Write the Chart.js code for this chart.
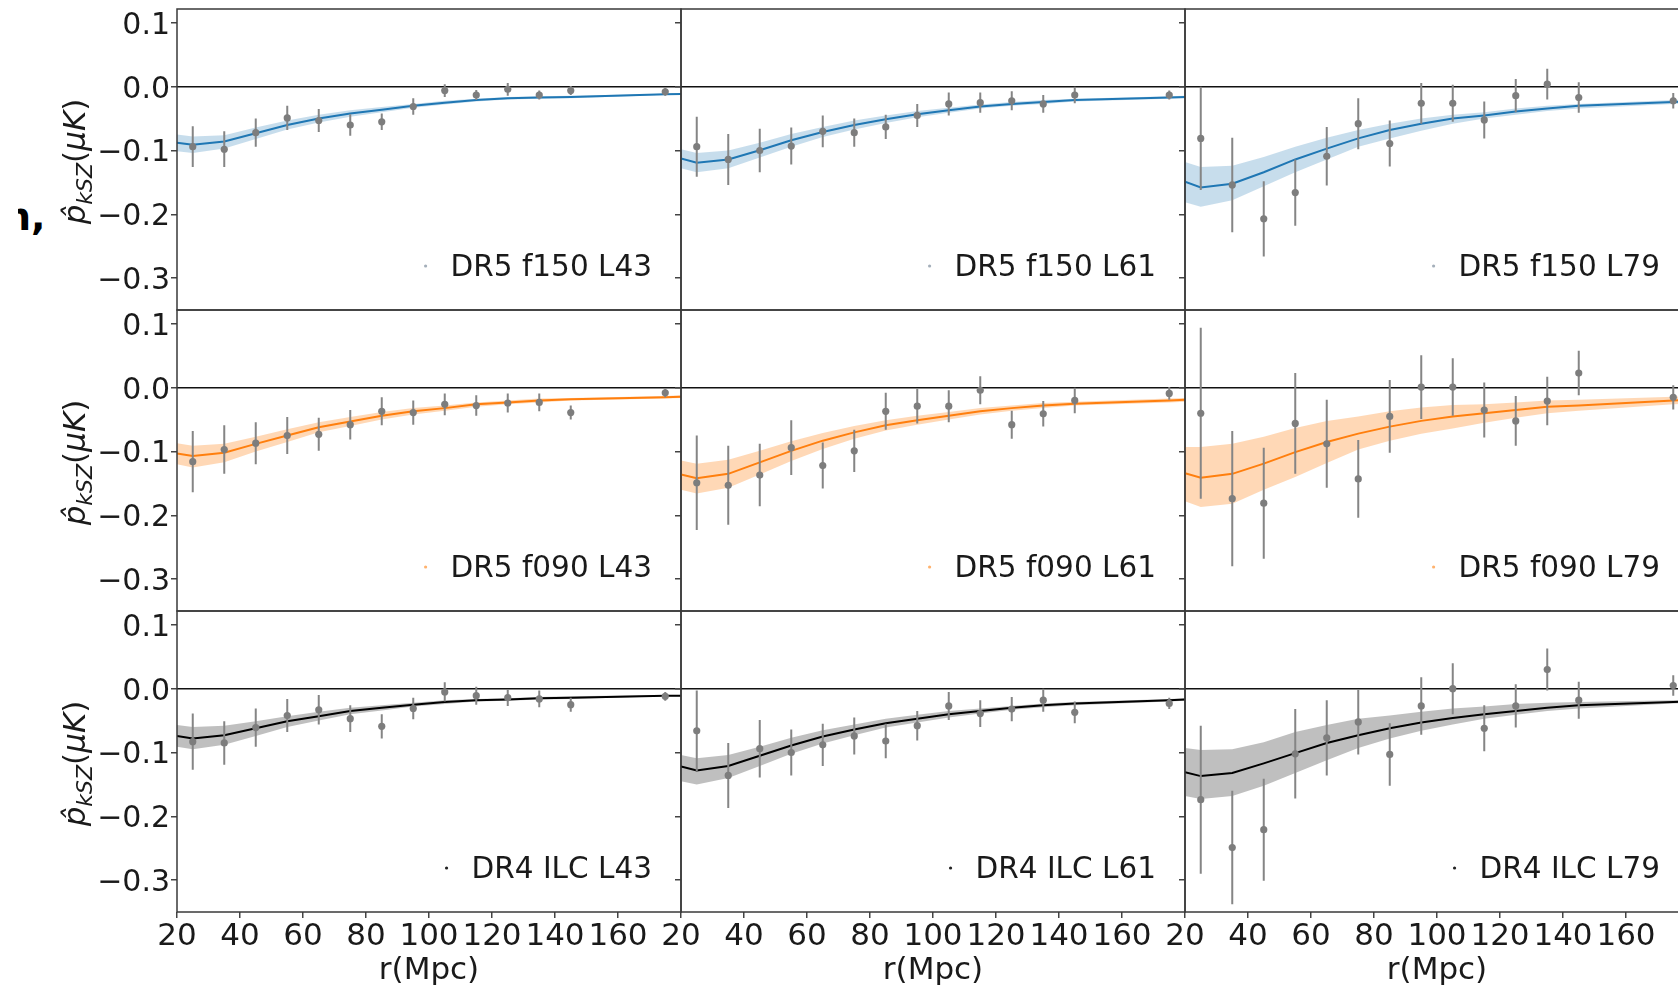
<!DOCTYPE html>
<html><head><meta charset="utf-8">
<script src="https://cdn.jsdelivr.net/npm/chart.js@4.4.1/dist/chart.umd.min.js"></script>
<style>
html,body{margin:0;padding:0;background:#fff;overflow:hidden;width:1678px;height:985px;position:relative;}
canvas{position:absolute;}
.clip{position:absolute;overflow:hidden;}
.stray{position:absolute;font-family:'DejaVu Sans',sans-serif;font-weight:bold;color:#000;line-height:1;white-space:pre;}
</style></head><body>
<div class="clip" style="left:18px;top:190px;width:40px;height:52px;"><div class="stray" style="left:-14px;top:8px;font-size:38px;">n,</div></div>
<script>
const FONT = "'DejaVu Sans', sans-serif";

// ---- axes / ticks ----
const rData  = [25,35,45,55,65,75,85,95,105,115,125,135,145,175];
const rModel = [20,25,35,45,55,65,75,85,95,105,115,125,135,145,175,180];
const xTickValues = [20,40,60,80,100,120,140,160];
const yTickValues = [-0.3,-0.2,-0.1,0.0,0.1];
const xTitle = 'r(Mpc)';
const panelLabels = ['DR5 f150 L43','DR5 f150 L61','DR5 f150 L79',
                     'DR5 f090 L43','DR5 f090 L61','DR5 f090 L79',
                     'DR4 ILC L43','DR4 ILC L61','DR4 ILC L79'];

// ---- DR5 f150 ----
const obs_f150_L43 = [-0.094,-0.098,-0.072,-0.049,-0.053,-0.060,-0.055,-0.031,-0.006,-0.013,-0.004,-0.013,-0.006,-0.008];
const err_f150_L43 = [0.032,0.028,0.022,0.019,0.018,0.017,0.013,0.013,0.010,0.008,0.010,0.007,0.007,0.006];
const fit_f150_L43 = [-0.088,-0.091,-0.086,-0.073,-0.060,-0.050,-0.042,-0.036,-0.030,-0.025,-0.021,-0.018,-0.017,-0.016,-0.012,-0.0115];
const hi_f150_L43  = [-0.075,-0.078,-0.076,-0.064,-0.053,-0.044,-0.037,-0.032,-0.027,-0.022,-0.019,-0.016,-0.015,-0.014,-0.011,-0.010];
const lo_f150_L43  = [-0.101,-0.104,-0.097,-0.082,-0.067,-0.056,-0.047,-0.040,-0.033,-0.028,-0.023,-0.020,-0.019,-0.018,-0.013,-0.013];

const obs_f150_L61 = [-0.094,-0.114,-0.100,-0.093,-0.070,-0.072,-0.063,-0.045,-0.027,-0.025,-0.022,-0.027,-0.013,-0.013];
const err_f150_L61 = [0.047,0.040,0.034,0.029,0.025,0.022,0.019,0.018,0.018,0.016,0.015,0.014,0.013,0.007];
const fit_f150_L61 = [-0.1125,-0.119,-0.114,-0.0995,-0.084,-0.071,-0.060,-0.051,-0.043,-0.037,-0.031,-0.027,-0.024,-0.021,-0.017,-0.016];
const hi_f150_L61  = [-0.098,-0.104,-0.100,-0.088,-0.074,-0.063,-0.053,-0.045,-0.038,-0.033,-0.028,-0.024,-0.021,-0.019,-0.015,-0.014];
const lo_f150_L61  = [-0.128,-0.134,-0.128,-0.111,-0.094,-0.079,-0.067,-0.057,-0.048,-0.041,-0.034,-0.030,-0.027,-0.023,-0.019,-0.018];

const obs_f150_L79 = [-0.081,-0.154,-0.207,-0.166,-0.109,-0.058,-0.089,-0.026,-0.026,-0.052,-0.014,0.004,-0.017,-0.022];
const err_f150_L79 = [0.081,0.074,0.059,0.052,0.046,0.040,0.036,0.032,0.029,0.029,0.026,0.024,0.024,0.012];
const fit_f150_L79 = [-0.149,-0.158,-0.152,-0.134,-0.114,-0.097,-0.081,-0.068,-0.058,-0.050,-0.045,-0.039,-0.034,-0.030,-0.024,-0.023];
const hi_f150_L79  = [-0.118,-0.126,-0.124,-0.110,-0.094,-0.080,-0.068,-0.058,-0.050,-0.044,-0.040,-0.034,-0.030,-0.027,-0.021,-0.020];
const lo_f150_L79  = [-0.181,-0.188,-0.178,-0.156,-0.134,-0.114,-0.094,-0.081,-0.069,-0.058,-0.050,-0.044,-0.038,-0.034,-0.027,-0.026];

// ---- DR5 f090 ----
const obs_f090_L43 = [-0.116,-0.097,-0.087,-0.075,-0.073,-0.058,-0.037,-0.039,-0.026,-0.028,-0.024,-0.023,-0.039,-0.008];
const err_f090_L43 = [0.048,0.038,0.033,0.029,0.026,0.023,0.022,0.019,0.017,0.016,0.015,0.014,0.011,0.007];
const fit_f090_L43 = [-0.103,-0.107,-0.102,-0.088,-0.075,-0.062,-0.053,-0.044,-0.037,-0.032,-0.026,-0.023,-0.020,-0.018,-0.015,-0.014];
const hi_f090_L43  = [-0.087,-0.091,-0.088,-0.077,-0.065,-0.054,-0.046,-0.038,-0.032,-0.028,-0.023,-0.020,-0.017,-0.016,-0.013,-0.012];
const lo_f090_L43  = [-0.120,-0.125,-0.117,-0.100,-0.085,-0.070,-0.060,-0.050,-0.042,-0.036,-0.030,-0.026,-0.023,-0.020,-0.017,-0.016];

const obs_f090_L61 = [-0.149,-0.153,-0.137,-0.094,-0.122,-0.099,-0.037,-0.029,-0.029,-0.004,-0.058,-0.041,-0.020,-0.009];
const err_f090_L61 = [0.074,0.062,0.049,0.043,0.036,0.033,0.029,0.027,0.025,0.022,0.022,0.020,0.020,0.010];
const fit_f090_L61 = [-0.136,-0.142,-0.135,-0.117,-0.099,-0.083,-0.070,-0.059,-0.051,-0.044,-0.037,-0.032,-0.028,-0.025,-0.020,-0.019];
const hi_f090_L61  = [-0.114,-0.119,-0.113,-0.099,-0.084,-0.071,-0.060,-0.051,-0.044,-0.038,-0.032,-0.028,-0.024,-0.022,-0.017,-0.016];
const lo_f090_L61  = [-0.160,-0.166,-0.157,-0.136,-0.115,-0.096,-0.080,-0.067,-0.058,-0.050,-0.042,-0.036,-0.032,-0.028,-0.023,-0.022];

const obs_f090_L79 = [-0.040,-0.174,-0.181,-0.056,-0.088,-0.143,-0.045,0.001,0.001,-0.035,-0.052,-0.021,0.023,-0.015];
const err_f090_L79 = [0.134,0.106,0.087,0.079,0.069,0.061,0.057,0.050,0.045,0.043,0.039,0.038,0.035,0.019];
const fit_f090_L79 = [-0.134,-0.141,-0.135,-0.119,-0.101,-0.085,-0.072,-0.061,-0.052,-0.045,-0.040,-0.035,-0.030,-0.028,-0.020,-0.019];
const hi_f090_L79  = [-0.093,-0.093,-0.088,-0.077,-0.063,-0.052,-0.045,-0.037,-0.031,-0.027,-0.026,-0.023,-0.020,-0.019,-0.014,-0.013];
const lo_f090_L79  = [-0.178,-0.187,-0.182,-0.160,-0.140,-0.118,-0.097,-0.083,-0.072,-0.064,-0.055,-0.047,-0.040,-0.036,-0.026,-0.025];

// ---- DR4 ILC ----
const obs_ilc_L43 = [-0.083,-0.085,-0.061,-0.042,-0.033,-0.047,-0.059,-0.031,-0.005,-0.011,-0.014,-0.016,-0.025,-0.012];
const err_ilc_L43 = [0.044,0.034,0.030,0.026,0.023,0.021,0.019,0.017,0.015,0.014,0.013,0.013,0.011,0.007];
const fit_ilc_L43 = [-0.074,-0.078,-0.073,-0.062,-0.051,-0.043,-0.035,-0.030,-0.025,-0.021,-0.018,-0.017,-0.015,-0.014,-0.011,-0.011];
const hi_ilc_L43  = [-0.057,-0.060,-0.058,-0.051,-0.043,-0.036,-0.030,-0.026,-0.022,-0.018,-0.016,-0.015,-0.013,-0.012,-0.010,-0.010];
const lo_ilc_L43  = [-0.091,-0.095,-0.088,-0.074,-0.060,-0.050,-0.040,-0.034,-0.028,-0.024,-0.020,-0.019,-0.017,-0.016,-0.012,-0.012];

const obs_ilc_L61 = [-0.066,-0.136,-0.094,-0.100,-0.088,-0.074,-0.082,-0.058,-0.027,-0.039,-0.032,-0.018,-0.037,-0.023];
const err_ilc_L61 = [0.063,0.051,0.045,0.036,0.033,0.029,0.027,0.023,0.022,0.021,0.019,0.018,0.017,0.009];
const fit_ilc_L61 = [-0.122,-0.128,-0.121,-0.105,-0.089,-0.075,-0.064,-0.054,-0.047,-0.040,-0.035,-0.030,-0.026,-0.023,-0.018,-0.017];
const hi_ilc_L61  = [-0.104,-0.109,-0.104,-0.091,-0.077,-0.065,-0.056,-0.047,-0.041,-0.035,-0.031,-0.027,-0.023,-0.021,-0.016,-0.015];
const lo_ilc_L61  = [-0.145,-0.150,-0.140,-0.121,-0.102,-0.086,-0.073,-0.061,-0.053,-0.045,-0.039,-0.033,-0.029,-0.026,-0.020,-0.019];

const obs_ilc_L79 = [-0.174,-0.249,-0.221,-0.102,-0.077,-0.052,-0.103,-0.027,0.000,-0.062,-0.027,0.030,-0.018,0.005];
const err_ilc_L79 = [0.116,0.089,0.080,0.070,0.059,0.051,0.049,0.045,0.040,0.036,0.034,0.033,0.029,0.016];
const fit_ilc_L79 = [-0.131,-0.137,-0.132,-0.117,-0.101,-0.085,-0.073,-0.062,-0.053,-0.046,-0.040,-0.035,-0.030,-0.026,-0.021,-0.020];
const hi_ilc_L79  = [-0.093,-0.096,-0.095,-0.084,-0.068,-0.057,-0.047,-0.042,-0.036,-0.031,-0.028,-0.024,-0.022,-0.021,-0.018,-0.017];
const lo_ilc_L79  = [-0.168,-0.173,-0.168,-0.152,-0.132,-0.112,-0.093,-0.078,-0.066,-0.056,-0.047,-0.041,-0.035,-0.031,-0.023,-0.022];

const lineColors = ['#1f77b4','#ff7f0e','#000000'];
const bandColors = ['rgba(31,119,180,0.25)','rgba(255,127,14,0.30)','rgba(128,128,128,0.50)'];
const legendDotColors = ['rgba(90,110,130,0.55)','rgba(255,127,14,0.6)','#222222'];

const panels = [
  {obs:obs_f150_L43, err:err_f150_L43, fit:fit_f150_L43, hi:hi_f150_L43, lo:lo_f150_L43},
  {obs:obs_f150_L61, err:err_f150_L61, fit:fit_f150_L61, hi:hi_f150_L61, lo:lo_f150_L61},
  {obs:obs_f150_L79, err:err_f150_L79, fit:fit_f150_L79, hi:hi_f150_L79, lo:lo_f150_L79},
  {obs:obs_f090_L43, err:err_f090_L43, fit:fit_f090_L43, hi:hi_f090_L43, lo:lo_f090_L43},
  {obs:obs_f090_L61, err:err_f090_L61, fit:fit_f090_L61, hi:hi_f090_L61, lo:lo_f090_L61},
  {obs:obs_f090_L79, err:err_f090_L79, fit:fit_f090_L79, hi:hi_f090_L79, lo:lo_f090_L79},
  {obs:obs_ilc_L43, err:err_ilc_L43, fit:fit_ilc_L43, hi:hi_ilc_L43, lo:lo_ilc_L43},
  {obs:obs_ilc_L61, err:err_ilc_L61, fit:fit_ilc_L61, hi:hi_ilc_L61, lo:lo_ilc_L61},
  {obs:obs_ilc_L79, err:err_ilc_L79, fit:fit_ilc_L79, hi:hi_ilc_L79, lo:lo_ilc_L79}
];

const fmtY = v => (v < -1e-9 ? '\u2212' : '') + Math.abs(v).toFixed(1);

const framePlugin = {
  id: 'frame',
  afterDatasetsDraw(chart) {
    const {ctx, chartArea: a} = chart;
    ctx.save();
    ctx.strokeStyle = '#3a3a3a';
    ctx.lineWidth = 1.5;
    ctx.strokeRect(a.left, a.top, a.right - a.left, a.bottom - a.top);
    ctx.restore();
  }
};

const legendPlugin = {
  id: 'panelLegend',
  afterDraw(chart, args, opts) {
    const {ctx, chartArea: a} = chart;
    ctx.save();
    ctx.font = '29.5px ' + FONT;
    ctx.fillStyle = '#1a1a1a';
    ctx.textAlign = 'right';
    ctx.textBaseline = 'alphabetic';
    const xr = a.right - 29, yb = a.bottom - 34;
    ctx.fillText(opts.text, xr, yb);
    const w = ctx.measureText(opts.text).width;
    ctx.fillStyle = opts.dot;
    ctx.beginPath();
    ctx.arc(xr - w - 25, yb - 10, 1.6, 0, Math.PI * 2);
    ctx.fill();
    ctx.restore();
  }
};

const yTitlePlugin = {
  id: 'yTitleMath',
  afterDraw(chart, args, opts) {
    if (!opts.show) return;
    const {ctx, chartArea: a} = chart;
    const parts = [
      {t: 'p\u0302', f: 'italic 31px ' + FONT, dy: 0},
      {t: 'kSZ', f: 'italic 22px ' + FONT, dy: 7},
      {t: '(', f: '31px ' + FONT, dy: 0},
      {t: '\u03bcK', f: 'italic 31px ' + FONT, dy: 0},
      {t: ')', f: '31px ' + FONT, dy: 0}
    ];
    ctx.save();
    let total = 0;
    parts.forEach(p => { ctx.font = p.f; p.w = ctx.measureText(p.t).width; total += p.w; });
    ctx.translate(85, (a.top + a.bottom) / 2 + 2);
    ctx.rotate(-Math.PI / 2);
    ctx.fillStyle = '#1a1a1a';
    ctx.textBaseline = 'alphabetic';
    ctx.textAlign = 'left';
    let x = -total / 2;
    parts.forEach(p => { ctx.font = p.f; ctx.fillText(p.t, x, p.dy); x += p.w; });
    ctx.restore();
  }
};

const L = [177, 681, 1185], T = [9, 310, 611], W = 504, H = 301;

panels.forEach((p, i) => {
  const r = Math.floor(i / 3), c = i % 3;
  const padL = c === 0 ? 177 : 30, padR = 30, padT = 30, padB = r === 2 ? 80 : 30;
  const cv = document.createElement('canvas');
  cv.width = padL + W + padR;
  cv.height = padT + H + padB;
  cv.style.left = (L[c] - padL) + 'px';
  cv.style.top = (T[r] - padT) + 'px';
  document.body.appendChild(cv);

  const errPts = [];
  rData.forEach((x, k) => {
    errPts.push({x: x, y: p.obs[k] - p.err[k]}, {x: x, y: p.obs[k] + p.err[k]}, {x: x, y: null});
  });

  new Chart(cv, {
    type: 'line',
    data: {
      datasets: [
        {label: panelLabels[i], data: rData.map((x, k) => ({x: x, y: p.obs[k]})), showLine: false,
         pointRadius: 3.6, pointBackgroundColor: '#7d7d7d', pointBorderWidth: 0, pointBorderColor: 'transparent'},
        {data: errPts, borderColor: '#858585', borderWidth: 2, pointRadius: 0, spanGaps: false, fill: false},
        {data: rModel.map((x, k) => ({x: x, y: p.fit[k]})), borderColor: lineColors[r], borderWidth: 2,
         pointRadius: 0, tension: 0, fill: false},
        {data: rModel.map((x, k) => ({x: x, y: p.hi[k]})), borderColor: 'transparent', borderWidth: 0,
         pointRadius: 0, fill: '+1', backgroundColor: bandColors[r]},
        {data: rModel.map((x, k) => ({x: x, y: p.lo[k]})), borderColor: 'transparent', borderWidth: 0,
         pointRadius: 0, fill: false}
      ]
    },
    options: {
      responsive: false, animation: false, devicePixelRatio: 1, events: [],
      layout: {padding: {top: padT, right: padR, left: 0, bottom: 0}},
      plugins: {
        legend: {display: false}, tooltip: {enabled: false},
        panelLegend: {text: panelLabels[i], dot: legendDotColors[r]},
        yTitleMath: {show: c === 0}
      },
      scales: {
        x: {
          type: 'linear', min: 20, max: 180,
          afterBuildTicks: s => { s.ticks = xTickValues.map(v => ({value: v})); },
          afterFit: s => { s.height = padB; },
          ticks: {display: r === 2, autoSkip: false, maxRotation: 0, font: {family: FONT, size: 31}, color: '#1a1a1a', padding: 0},
          grid: {display: r === 2, drawOnChartArea: false, drawTicks: true, tickLength: 6, tickColor: '#444', lineWidth: 1.5},
          border: {display: false},
          title: {display: r === 2, text: xTitle, font: {family: FONT, size: 31}, color: '#1a1a1a', padding: {top: 0, bottom: 2}}
        },
        y: {
          type: 'linear', min: -0.35, max: 0.1218,
          afterBuildTicks: s => { s.ticks = yTickValues.map(v => ({value: v})); },
          afterFit: s => { s.width = padL; },
          ticks: {display: c === 0, font: {family: FONT, size: 30}, color: '#1a1a1a', padding: 1, labelOffset: 3, callback: v => fmtY(v)},
          grid: {display: true, drawOnChartArea: true, drawTicks: true, tickLength: 6,
                 color: ctx => (ctx.tick && Math.abs(ctx.tick.value) < 1e-9) ? '#111' : 'transparent',
                 tickColor: '#444', lineWidth: 1.5},
          border: {display: false}
        }
      }
    },
    plugins: [framePlugin, legendPlugin, yTitlePlugin]
  });
});
</script>
</body></html>
